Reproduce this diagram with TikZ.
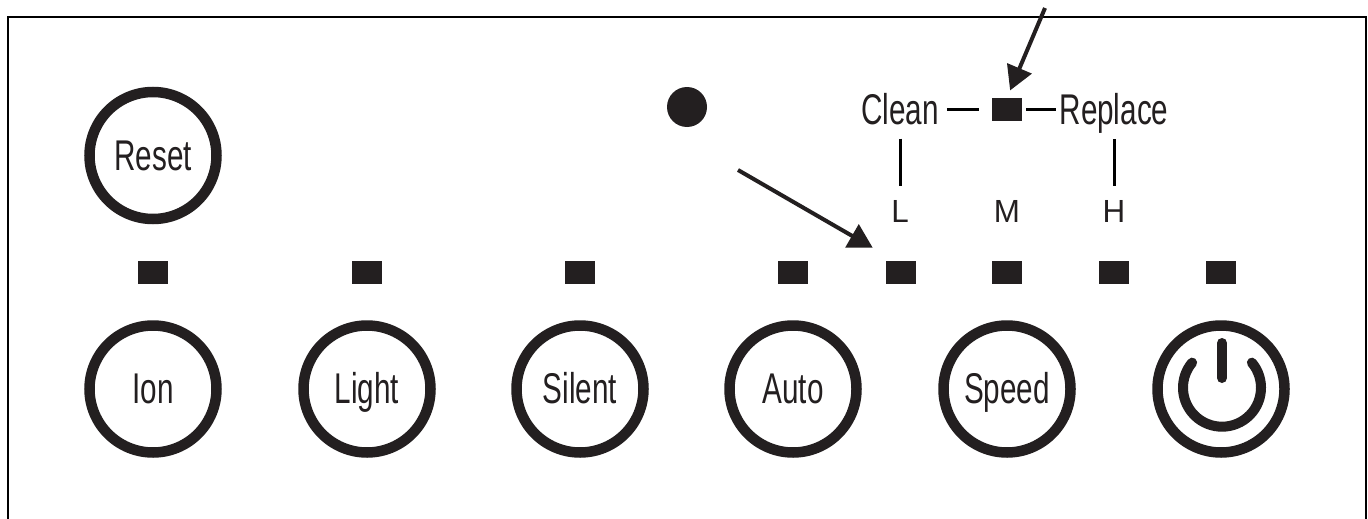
\documentclass[tikz,border=0pt]{standalone}
\usepackage{fontspec}
\setmainfont{Liberation Sans}
\newfontfamily\narrowfont[FakeStretch=0.69]{Liberation Sans}
\newfontfamily\smallfont[FakeStretch=0.98]{Liberation Sans}
\usetikzlibrary{arrows.meta}
\definecolor{ink}{HTML}{231F20}
\tikzset{
  btn/.style={circle,draw=ink,line width=10.5pt,minimum size=127pt,inner sep=0pt,
    font=\narrowfont\fontsize{43}{43}\selectfont,text=ink,text height=29pt,text depth=0pt},
  led/.style={rectangle,fill=ink,minimum width=30pt,minimum height=23pt,inner sep=0pt},
  biglabel/.style={inner sep=0pt,anchor=base,font=\narrowfont\fontsize{43}{43}\selectfont,text=ink},
  smalllabel/.style={inner sep=0pt,anchor=base,font=\smallfont\fontsize{32}{32}\selectfont,text=ink},
  wire/.style={draw=black,line width=3pt},
  pointer/.style={draw=ink,line width=4pt,-{Triangle[length=24pt,width=26pt,fill=ink]}},
  frameline/.style={draw=black,line width=2pt},
  powerline/.style={draw=ink,line width=10pt,line cap=round}
}
\begin{document}
\begin{tikzpicture}[x=1pt,y=1pt]
\useasboundingbox (0,0) rectangle (1368,-519);
\fill[white] (0,0) rectangle (1368,-519);
% frame
\coordinate (fbl) at (8,-519);
\coordinate (ftl) at (8,-17);
\coordinate (ftr) at (1366,-17);
\coordinate (fbr) at (1366,-519);
\draw[frameline] (fbl) -- (ftl) -- (ftr) -- (fbr);
% buttons
\node[btn] (reset) at (153,-155.5) {Reset};
\node[btn] (ion) at (153,-389) {Ion};
\node[btn] (light) at (367,-389) {Light};
\node[btn] (silent) at (580,-389) {Silent};
\node[btn] (auto) at (793,-389) {Auto};
\node[btn] (speed) at (1007,-389) {Speed};
\node[btn] (power) at (1221,-389) {};
% power symbol
\draw[powerline] (1222,-387.7) ++(40:39pt) arc[start angle=40,end angle=-220,radius=39pt];
\coordinate (bartop) at (1222,-343);
\coordinate (barbot) at (1222,-378);
\draw[powerline] (bartop) -- (barbot);
% LEDs
\node[led] (l1) at (153,-272.5) {};
\node[led] (l2) at (367,-272.5) {};
\node[led] (l3) at (580,-272.5) {};
\node[led] (l4) at (793,-272.5) {};
\node[led] (l5) at (901,-272.5) {};
\node[led] (l6) at (1007,-272.5) {};
\node[led] (l7) at (1114,-272.5) {};
\node[led] (l8) at (1221,-272.5) {};
\node[led] (ltop) at (1007,-109.5) {};
% dot
\node[circle,fill=ink,minimum size=40pt,inner sep=0pt] (dot) at (687,-107) {};
% labels
\node[biglabel] (clean) at (900,-124) {Clean};
\node[biglabel] (replace) at (1114,-124) {Replace};
\node[smalllabel] (ll) at (900,-222) {L};
\node[smalllabel] (lm) at (1007,-222) {M};
\node[smalllabel] (lh) at (1114,-222) {H};
% wires
\draw[wire,shorten <=14pt,shorten >=14pt] (clean.south) -- (ll.north);
\draw[wire,shorten <=6pt,shorten >=14pt] (replace.south) -- (lh.north);
\draw[wire,shorten <=8pt,shorten >=13pt] (clean.east |- ltop) -- (ltop.west);
\draw[wire,shorten <=4pt,shorten >=3pt] (ltop.east) -- (replace.west |- ltop);
% pointers
\coordinate (ptop) at (1045,-8);
\coordinate (plow) at (738,-170);
\draw[pointer,shorten >=8pt] (ptop) -- (ltop.north);
\draw[pointer,shorten >=26pt] (plow) -- ([xshift=9.5pt]l5.north west);
\end{tikzpicture}
\end{document}
